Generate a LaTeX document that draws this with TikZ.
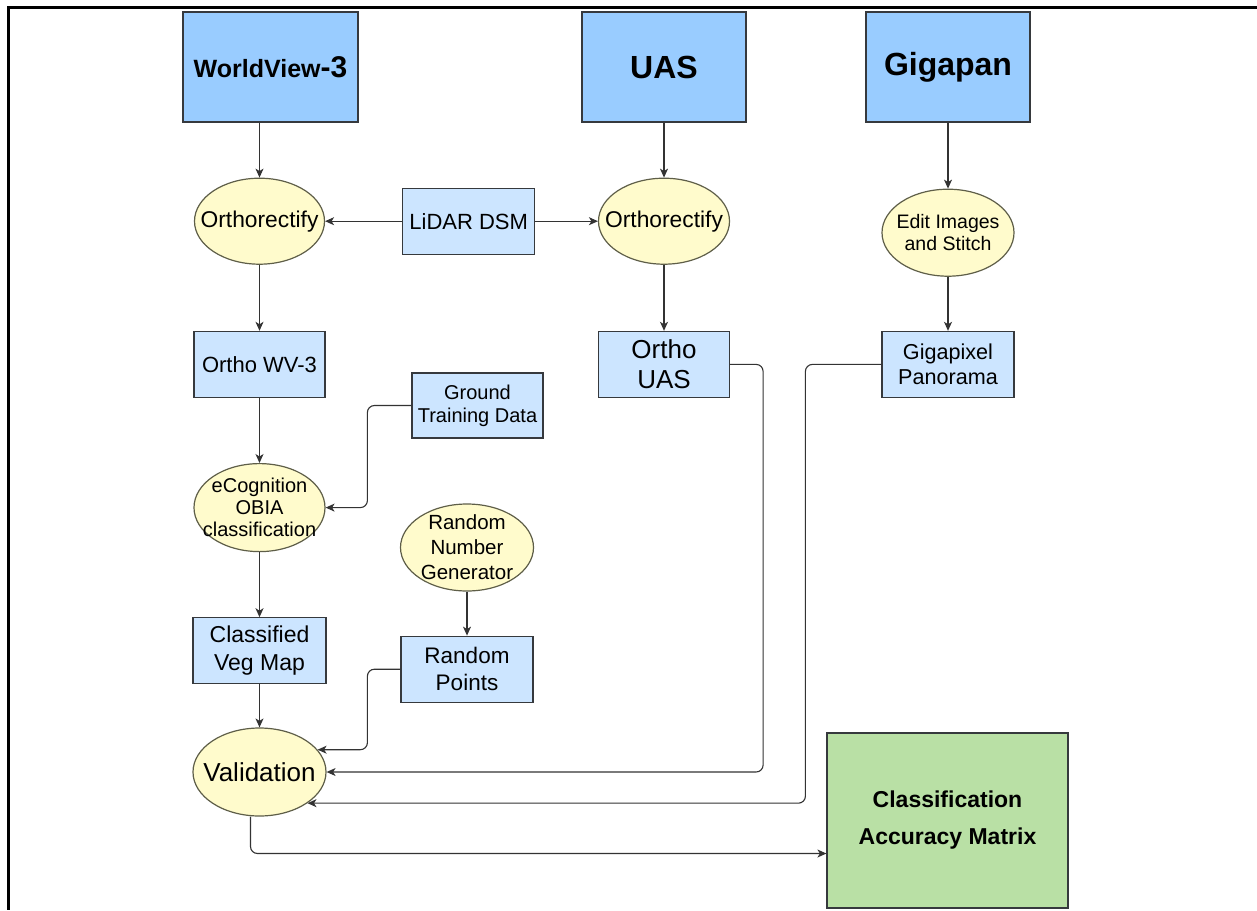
\documentclass[tikz,border=0pt]{standalone}
\usepackage{fontspec}
\setmainfont{Liberation Sans}
\usepackage{xcolor}
\usetikzlibrary{arrows.meta,positioning,shapes.geometric}

\definecolor{headblue}{HTML}{99CCFF}
\definecolor{boxblue}{HTML}{CCE5FF}
\definecolor{procyellow}{HTML}{FFFBCC}
\definecolor{resgreen}{HTML}{B9E0A5}
\definecolor{edgegray}{HTML}{36393D}
\definecolor{procedge}{HTML}{5E5E48}
\definecolor{linegray}{HTML}{333333}
\newcommand{\fsz}[2]{\fontsize{#1}{#2}\selectfont}

\begin{document}
\begin{tikzpicture}[
  x=1pt,y=-1pt,
  node distance=55pt,
  head/.style={draw=edgegray,line width=1.2pt,fill=headblue,minimum width=164pt,minimum height=110pt,inner sep=0pt,font=\bfseries\fsz{32}{36}},
  box/.style={draw=edgegray,line width=1.2pt,fill=boxblue,minimum width=132pt,minimum height=66pt,inner sep=0pt,align=center,font=\fsz{22}{26}},
  proc/.style={ellipse,draw=procedge,line width=1.2pt,fill=procyellow,minimum width=131pt,minimum height=87pt,inner sep=-30pt,align=center,font=\fsz{22.8}{26}},
  arr/.style={-{Stealth[length=9pt,width=8pt,inset=2.5pt]},draw=linegray,line width=1.1pt},
  elbow/.style={arr,rounded corners=7pt}
]
\useasboundingbox (0,0) rectangle (1257,910);
\draw[line width=3pt] (1257,7.5) -- (8.5,7.5) -- (8.5,910);

% sources
\node[head,minimum width=175pt,font=\bfseries\fsz{25}{30}] (wv) at (270.5,67) {WorldView{\fsz{30}{30}-3}};
\node[head] (uas) at (664,67) {UAS};
\node[head] (giga) at (948,67) {Gigapan};

% orthorectification
\node[proc,below=55pt of wv,xshift=-11pt,minimum width=130pt,minimum height=86pt] (orthoL) {Orthorectify};
\node[box,right=77pt of orthoL] (lidar) {LiDAR DSM};
\node[proc,below=55pt of uas,minimum height=86pt] (orthoR) {Orthorectify};
\node[proc,below=66pt of giga,minimum width=132pt,font=\fsz{19.5}{22}] (edit) {Edit Images\\and Stitch};

% products
\node[box,below=66pt of orthoL,minimum width=131pt] (owv) {Ortho WV-3};
\node[box,below=66pt of orthoR,minimum width=131pt,font=\fsz{26}{30}] (ouas) {Ortho\\UAS};
\node[box,below=54pt of edit,font=\fsz{21.6}{25}] (gpx) {Gigapixel\\Panorama};
\node[box,minimum width=131pt,minimum height=65pt,font=\fsz{20}{23}] (gtd) at (477.5,405.5) {Ground\\Training Data};

% classification
\node[proc,below=65pt of owv,minimum height=88pt,font=\fsz{20}{22}] (ecog) {eCognition\\OBIA\\classification};
\node[box,below=65pt of ecog,minimum width=133pt,font=\fsz{23}{28}] (cvm) {Classified\\Veg Map};
\node[proc,minimum width=133pt,font=\fsz{20.5}{25}] (rng) at (467,547.5) {Random\\Number\\Generator};
\node[box,below=44pt of rng,font=\fsz{22.5}{27}] (rpts) {Random\\Points};
\node[proc,below=43pt of cvm,minimum width=133pt,minimum height=88pt,font=\fsz{26}{30}] (valid) {Validation};
\node[box,fill=resgreen,minimum width=241pt,minimum height=175pt,font=\bfseries\fsz{23}{37}] (cam) at (947.5,820.5) {Classification\\Accuracy Matrix};

\draw[arr] (orthoL.north |- wv.south) -- (orthoL.north);
\draw[arr] (uas) -- (orthoR);
\draw[arr] (giga) -- (edit);
\draw[arr] (lidar) -- (orthoL);
\draw[arr] (lidar) -- (orthoR);
\draw[arr] (orthoL) -- (owv);
\draw[arr] (orthoR) -- (ouas);
\draw[arr] (edit) -- (gpx);
\draw[arr] (owv) -- (ecog);
\draw[arr] (ecog) -- (cvm);
\draw[arr] (rng) -- (rpts);
\draw[arr] (cvm) -- (valid);
\draw[elbow] (gtd.west) -- ++(-44,0) |- (ecog.east);
\draw[elbow] (rpts.west) -- ++(-33,0) |- (valid.21);
\draw[elbow] (ouas.east) -- ++(33,0) |- (valid.east);
\draw[elbow] (gpx.west) -- ++(-76,0) |- (valid.-33);
\draw[elbow] ([xshift=-9pt]valid.south) |- ([yshift=-33pt]cam.west);
\end{tikzpicture}
\end{document}
